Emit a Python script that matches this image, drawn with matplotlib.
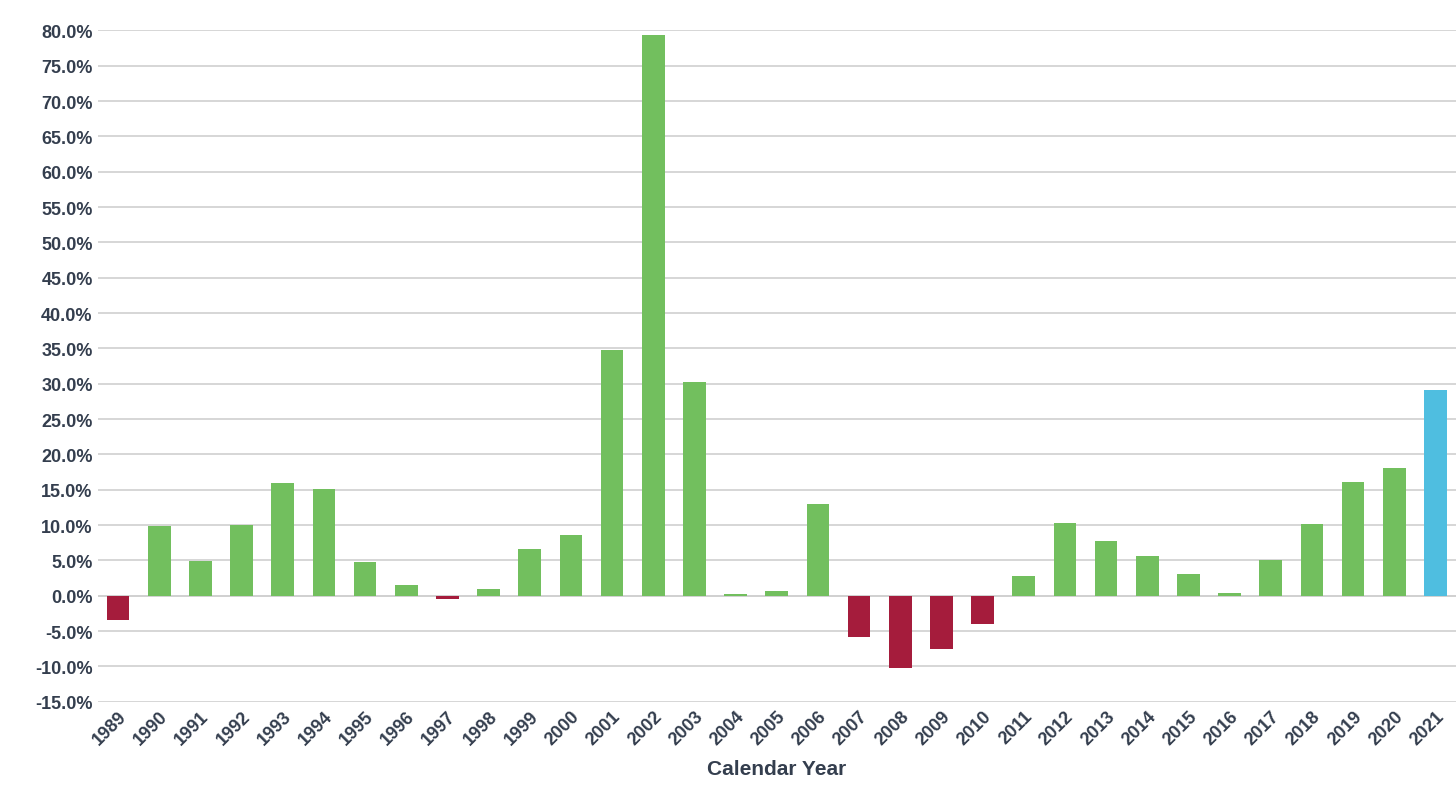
import matplotlib
matplotlib.use("Agg")
import matplotlib.pyplot as plt
from matplotlib.ticker import FuncFormatter, MultipleLocator

years = [str(y) for y in range(1989, 2022)]
values = [-3.5, 9.8, 4.9, 10.0, 15.9, 15.1, 4.8, 1.5, -0.4, 1.0, 6.6, 8.6, 34.8, 79.4, 30.3,
          0.2, 0.6, 13.0, -5.8, -10.2, -7.6, -4.0, 2.8, 10.3, 7.8, 5.6, 3.1, 0.4, 5.1, 10.1,
          16.1, 18.0, 29.1]

colors = []
for i, v in enumerate(values):
    if i == len(values) - 1:
        colors.append("#4FBEE0")
    elif v < 0:
        colors.append("#A51C3C")
    else:
        colors.append("#72BF5E")

fig = plt.figure(figsize=(14.56, 8.04), dpi=100)
ax = fig.add_axes([0.067, 0.126, 0.933, 0.835])
x = list(range(len(years)))
ax.bar(x, values, width=0.55, color=colors, zorder=3)
ax.set_xlim(-0.5, len(years) - 0.5)
ax.set_ylim(-15, 80)
ax.yaxis.set_major_locator(MultipleLocator(5))
ax.yaxis.set_major_formatter(FuncFormatter(lambda v, p: f"{v:.1f}%"))
ax.grid(axis="y", color="#D0D0D0", linewidth=1.2, zorder=0)
for s in ax.spines.values():
    s.set_visible(False)
ax.axhline(0, color="#D0D0D0", linewidth=1.2, zorder=1)
ax.set_xticks(x)
ax.set_xticklabels(years, rotation=45, ha="right", rotation_mode="anchor")
txt = "#343E4E"
ax.tick_params(axis="both", length=0, labelsize=13, labelcolor=txt)
ax.tick_params(axis="x", pad=4)
for lab in ax.get_xticklabels() + ax.get_yticklabels():
    lab.set_fontweight("bold")
    lab.set_family("Liberation Sans")
ax.set_xlabel("Calendar Year", fontsize=15, fontweight="bold", color=txt, family="Liberation Sans", labelpad=8)
fig.savefig("out.png", dpi=100)
